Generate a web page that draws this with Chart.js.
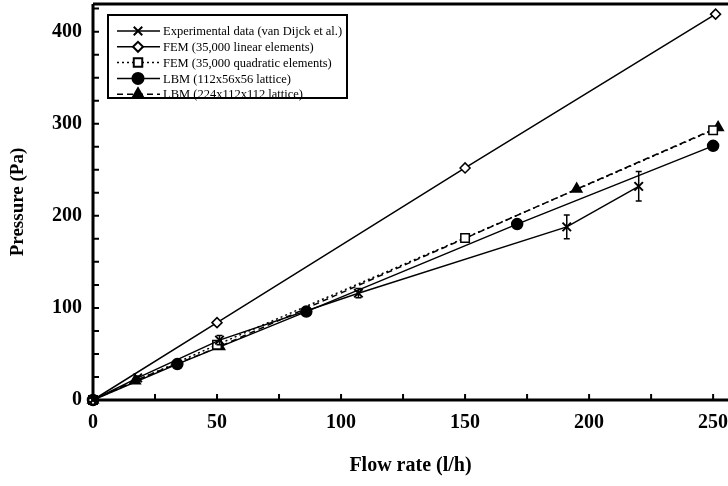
<!DOCTYPE html>
<html>
<head>
<meta charset="utf-8">
<script src="https://cdn.jsdelivr.net/npm/chart.js@4"></script>
<style>
  html, body { margin: 0; padding: 0; background: #fff; overflow: hidden; }
  #wrap { width: 728px; height: 486px; }
</style>
</head>
<body>
<div id="wrap"><canvas id="c" width="728" height="486"></canvas></div>
<script>
// flow rate (l/h) / pressure (Pa)
const expFlow = [0, 18, 51, 107, 191, 220]
const expPressure = [0, 24, 65, 116, 188, 232]
const expError = [0, 2, 5, 5, 13, 16]

const femLinFlow = [0, 50, 150, 251]
const femLinPressure = [0, 84, 252, 419]

const femQuadFlow = [0, 50, 150, 250]
const femQuadPressure = [0, 60, 176, 293]

const lbm112Flow = [0, 34, 86, 171, 250]
const lbm112Pressure = [0, 39, 96, 191, 276]

const lbm224Flow = [0, 17, 51, 195, 252]
const lbm224Pressure = [0, 21, 58, 229, 296]

const xTicks = [0, 50, 100, 150, 200, 250]
const yTicks = [0, 100, 200, 300, 400]

const labels = [
  "Experimental data (van Dijck et al.)",
  "FEM (35,000 linear elements)",
  "FEM (35,000 quadratic elements)",
  "LBM (112x56x56 lattice)",
  "LBM (224x112x112 lattice)"
]

const pts = (xs, ys) => xs.map((x, i) => ({ x: x, y: ys[i] }))
const serif = "'Liberation Serif', 'DejaVu Serif', serif"

const errorBars = {
  id: "errorBars",
  afterDatasetsDraw(chart) {
    const ctx = chart.ctx
    const xs = chart.scales.x, ys = chart.scales.y
    ctx.save()
    ctx.strokeStyle = "#000"
    ctx.lineWidth = 1.5
    expFlow.forEach((f, i) => {
      if (!expError[i]) return
      const px = xs.getPixelForValue(f)
      const top = ys.getPixelForValue(expPressure[i] + expError[i])
      const bot = ys.getPixelForValue(expPressure[i] - expError[i])
      ctx.beginPath()
      ctx.moveTo(px, top); ctx.lineTo(px, bot)
      ctx.moveTo(px - 3, top); ctx.lineTo(px + 3, top)
      ctx.moveTo(px - 3, bot); ctx.lineTo(px + 3, bot)
      ctx.stroke()
    })
    ctx.restore()
  }
}

const frame = {
  id: "frame",
  afterDraw(chart) {
    const ctx = chart.ctx
    const a = chart.chartArea
    const xs = chart.scales.x, ys = chart.scales.y
    ctx.save()
    ctx.strokeStyle = "#000"
    ctx.lineWidth = 3
    ctx.beginPath()
    ctx.moveTo(a.left, a.top); ctx.lineTo(chart.width, a.top)
    ctx.moveTo(a.left, a.top); ctx.lineTo(a.left, a.bottom)
    ctx.moveTo(a.left - 1.5, a.bottom); ctx.lineTo(chart.width, a.bottom)
    ctx.stroke()
    // inward minor ticks
    ctx.lineWidth = 2
    ctx.beginPath()
    for (let v = 25; v <= 250; v += 25) {
      const px = xs.getPixelForValue(v)
      ctx.moveTo(px, a.bottom); ctx.lineTo(px, a.bottom - 6)
    }
    for (let v = 25; v <= 425; v += 25) {
      const py = ys.getPixelForValue(v)
      ctx.moveTo(a.left, py); ctx.lineTo(a.left + 6, py)
    }
    ctx.stroke()

    // legend box
    const bx = 108, by = 15, bw = 239, bh = 83
    ctx.fillStyle = "#fff"
    ctx.fillRect(bx, by, bw, bh)
    ctx.lineWidth = 2
    ctx.strokeRect(bx, by, bw, bh)
    ctx.font = "12.5px " + serif
    ctx.textBaseline = "middle"
    chart.data.datasets.forEach((ds, i) => {
      const y = by + 16 + i * 15.8
      ctx.save()
      ctx.lineWidth = ds.borderWidth
      ctx.setLineDash(ds.borderDash || [])
      ctx.beginPath()
      ctx.moveTo(117, y); ctx.lineTo(160, y)
      ctx.stroke()
      ctx.restore()
      ctx.fillStyle = ds.pointBackgroundColor || "#000"
      ctx.strokeStyle = "#000"
      Chart.helpers.drawPoint(ctx, {
        pointStyle: ds.pointStyle,
        radius: ds.pointRadius,
        borderWidth: ds.pointBorderWidth || 1.5
      }, 138, y)
      ctx.fillStyle = "#000"
      ctx.fillText(ds.label, 163, y + 1)
    })
    ctx.restore()
  }
}

new Chart(document.getElementById("c"), {
  type: "scatter",
  data: {
    datasets: [
      {
        label: labels[0], data: pts(expFlow, expPressure), showLine: true,
        borderColor: "#000", borderWidth: 1.5, pointStyle: "crossRot", pointRadius: 6,
        pointBorderWidth: 2, pointBorderColor: "#000"
      },
      {
        label: labels[1], data: pts(femLinFlow, femLinPressure), showLine: true,
        borderColor: "#000", borderWidth: 1.5, pointStyle: "rectRot", pointRadius: 5,
        pointBorderWidth: 1.5, pointBackgroundColor: "#fff", pointBorderColor: "#000"
      },
      {
        label: labels[2], data: pts(femQuadFlow, femQuadPressure), showLine: true,
        borderColor: "#000", borderWidth: 1.5, borderDash: [2, 3], pointStyle: "rect", pointRadius: 6,
        pointBorderWidth: 1.5, pointBackgroundColor: "#fff", pointBorderColor: "#000"
      },
      {
        label: labels[3], data: pts(lbm112Flow, lbm112Pressure), showLine: true,
        borderColor: "#000", borderWidth: 1.5, pointStyle: "circle", pointRadius: 5.5,
        pointBackgroundColor: "#000", pointBorderColor: "#000"
      },
      {
        label: labels[4], data: pts(lbm224Flow, lbm224Pressure), showLine: true,
        borderColor: "#000", borderWidth: 1.5, borderDash: [6, 4], pointStyle: "triangle", pointRadius: 6,
        pointBackgroundColor: "#000", pointBorderColor: "#000"
      }
    ]
  },
  options: {
    responsive: false,
    animation: false,
    clip: false,
    layout: { autoPadding: false, padding: { top: 4, right: 0, bottom: 0, left: 0 } },
    plugins: { legend: { display: false }, tooltip: { enabled: false } },
    scales: {
      x: {
        type: "linear", min: 0, max: 256,
        afterBuildTicks: s => { s.ticks = xTicks.map(v => ({ value: v })) },
        afterFit: s => { s.height = 86; s.paddingLeft = 0; s.paddingRight = 0 },
        grid: { display: false, drawTicks: false },
        border: { display: false },
        ticks: { color: "#000", padding: 11, font: { family: serif, size: 20, weight: "bold" } },
        title: { display: true, text: "Flow rate (l/h)", color: "#000", padding: { top: 4, bottom: 8 },
          font: { family: serif, size: 20, weight: "bold" } }
      },
      y: {
        type: "linear", min: 0, max: 430,
        afterBuildTicks: s => { s.ticks = yTicks.map(v => ({ value: v })) },
        afterFit: s => { s.width = 93; s.paddingTop = 0; s.paddingBottom = 0 },
        grid: { display: false, drawTicks: false },
        border: { display: false },
        ticks: { color: "#000", padding: 11, font: { family: serif, size: 20, weight: "bold" } },
        title: { display: true, text: "Pressure (Pa)", color: "#000", padding: { top: 7, bottom: 4 },
          font: { family: serif, size: 19, weight: "bold" } }
      }
    }
  },
  plugins: [errorBars, frame]
})
</script>
</body>
</html>
